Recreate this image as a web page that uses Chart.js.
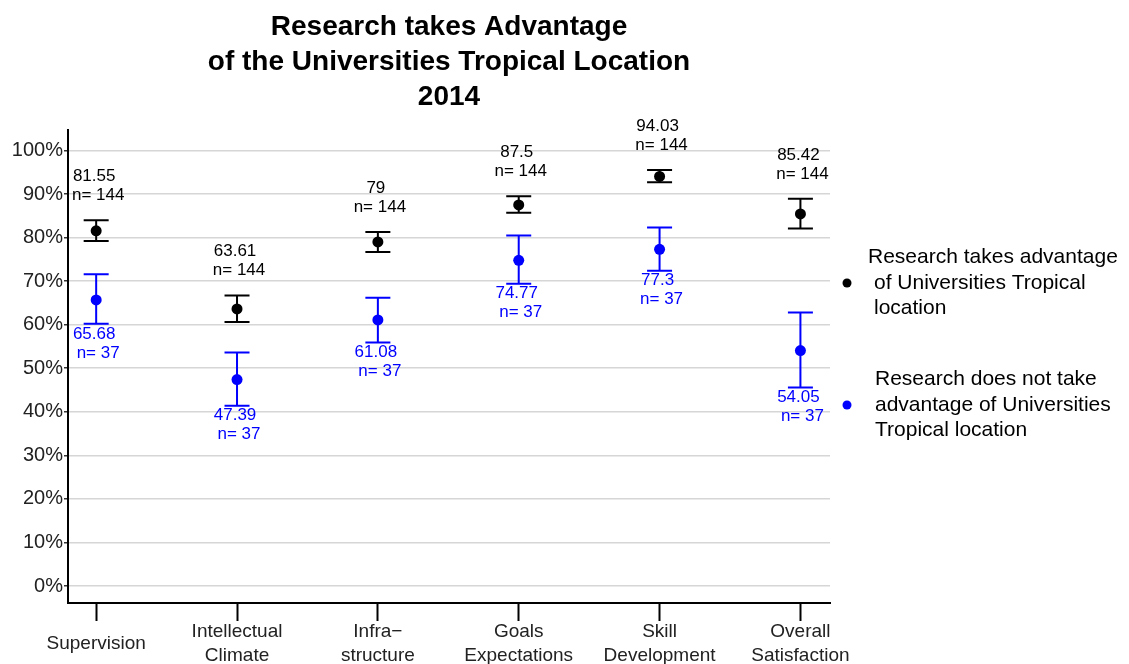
<!DOCTYPE html>
<html lang="en">
<head>
  <meta charset="UTF-8">
  <title>Research takes Advantage of the Universities Tropical Location 2014</title>
  <script src="https://cdn.jsdelivr.net/npm/chart.js"></script>
  <style>
    html, body { margin: 0; padding: 0; background: #fff; }
    #wrap { width: 1129px; height: 664px; position: relative; }
  </style>
</head>
<body>
  <div id="wrap"><canvas id="chart" width="1129" height="664"></canvas></div>

  <script>
    // categories (multi-line tick labels)
    const categories = [
      ['Supervision'],
      ['Intellectual', 'Climate'],
      ['Infra\u2212', 'structure'],
      ['Goals', 'Expectations'],
      ['Skill', 'Development'],
      ['Overall', 'Satisfaction']
    ];

    // Research takes advantage (black)
    const takesMean  = [81.55, 63.61, 79, 87.5, 94.03, 85.42];
    const takesLower = [79.2, 60.6, 76.7, 85.7, 92.7, 82.1];
    const takesUpper = [84.0, 66.7, 81.3, 89.5, 95.5, 88.9];
    const takesN     = [144, 144, 144, 144, 144, 144];

    // Research does not take advantage (blue)
    const notMean  = [65.68, 47.39, 61.08, 74.77, 77.3, 54.05];
    const notLower = [60.2, 41.4, 55.9, 69.4, 72.4, 45.6];
    const notUpper = [71.6, 53.6, 66.2, 80.5, 82.3, 62.8];
    const notN     = [37, 37, 37, 37, 37, 37];

    const yTicks = [0, 10, 20, 30, 40, 50, 60, 70, 80, 90, 100];

    const FONT = "'Liberation Sans', Arial, sans-serif";

    const groups = [
      { mean: takesMean, lower: takesLower, upper: takesUpper, n: takesN, color: '#000000', above: true },
      { mean: notMean, lower: notLower, upper: notUpper, n: notN, color: '#0000ff', above: false }
    ];

    // error bars drawn under the points
    const errorBars = {
      id: 'errorBars',
      beforeDatasetsDraw(chart) {
        const ctx = chart.ctx, xs = chart.scales.x, ys = chart.scales.y;
        ctx.save();
        ctx.lineWidth = 2;
        groups.forEach(g => {
          ctx.strokeStyle = g.color;
          g.mean.forEach((m, i) => {
            const px = xs.getPixelForValue(i);
            const top = ys.getPixelForValue(g.upper[i]);
            const bot = ys.getPixelForValue(g.lower[i]);
            ctx.beginPath();
            ctx.moveTo(px, top); ctx.lineTo(px, bot);
            ctx.moveTo(px - 12.5, top); ctx.lineTo(px + 12.5, top);
            ctx.moveTo(px - 12.5, bot); ctx.lineTo(px + 12.5, bot);
            ctx.stroke();
          });
        });
        ctx.restore();
      }
    };

    // value / n labels, title and legend
    const annotations = {
      id: 'annotations',
      afterDraw(chart) {
        const ctx = chart.ctx, xs = chart.scales.x, ys = chart.scales.y;
        const area = chart.chartArea;
        ctx.save();
        ctx.textBaseline = 'middle';
        ctx.textAlign = 'center';

        ctx.font = '17px ' + FONT;
        groups.forEach(g => {
          ctx.fillStyle = g.color;
          g.mean.forEach((m, i) => {
            const px = xs.getPixelForValue(i);
            let y1, y2;
            if (g.above) {
              const top = ys.getPixelForValue(g.upper[i]);
              y1 = top - 44; y2 = top - 25;
            } else {
              const bot = ys.getPixelForValue(g.lower[i]);
              y1 = bot + 10; y2 = bot + 29;
            }
            ctx.fillText(String(m), px - 2, y1);
            ctx.fillText('n= ' + g.n[i], px + 2, y2);
          });
        });

        // title
        ctx.fillStyle = '#000';
        ctx.font = 'bold 28px ' + FONT;
        const cx = (area.left + area.right) / 2;
        ['Research takes Advantage', 'of the Universities Tropical Location', '2014']
          .forEach((t, k) => ctx.fillText(t, cx, 27 + k * 35));

        // legend
        ctx.textAlign = 'left';
        ctx.font = '21px ' + FONT;
        const legend = [
          { color: '#000', y: 283, lines: [[868, 'Research takes advantage'], [874, 'of Universities Tropical'], [874, 'location']] },
          { color: '#0000ff', y: 405, lines: [[875, 'Research does not take'], [875, 'advantage of Universities'], [875, 'Tropical location']] }
        ];
        legend.forEach(l => {
          ctx.fillStyle = l.color;
          ctx.beginPath();
          ctx.arc(847, l.y, 4.5, 0, Math.PI * 2);
          ctx.fill();
          ctx.fillStyle = '#000';
          l.lines.forEach((ln, k) => ctx.fillText(ln[1], ln[0], l.y - 26 + k * 25.8));
        });
        ctx.restore();
      }
    };

    const ctx = document.getElementById('chart').getContext('2d');
    new Chart(ctx, {
      type: 'scatter',
      data: {
        datasets: groups.map(g => ({
          data: g.mean.map((m, i) => ({ x: i, y: m })),
          backgroundColor: g.color,
          borderWidth: 0,
          pointRadius: 5.5,
          pointHoverRadius: 5.5
        }))
      },
      options: {
        responsive: false,
        animation: false,
        layout: { padding: { top: 130, right: 299, left: 0, bottom: 0 } },
        plugins: {
          legend: { display: false },
          tooltip: { enabled: false },
          title: { display: false }
        },
        scales: {
          x: {
            type: 'linear',
            min: -0.2,
            max: 5.21,
            afterBuildTicks: scale => { scale.ticks = categories.map((c, i) => ({ value: i })); },
            afterFit: scale => { scale.height = 61; scale.paddingLeft = 0; scale.paddingRight = 0; },
            grid: { drawOnChartArea: false, drawTicks: true, tickLength: 18, tickColor: '#000', tickWidth: 2 },
            border: { display: true, color: '#000', width: 2 },
            ticks: {
              autoSkip: false,
              maxRotation: 0,
              padding: 11,
              crossAlign: 'center',
              color: '#222',
              font: { family: FONT, size: 19, lineHeight: 1.25 },
              callback: v => categories[v]
            }
          },
          y: {
            min: -3.9,
            max: 104.7,
            afterBuildTicks: scale => { scale.ticks = yTicks.map(v => ({ value: v })); },
            afterFit: scale => { scale.width = 68; scale.paddingTop = 0; scale.paddingBottom = 0; },
            grid: { color: '#d6d6d6', lineWidth: 1.5, drawTicks: true, tickLength: 4, tickColor: '#333', tickWidth: 1.5 },
            border: { display: true, color: '#000', width: 2 },
            ticks: {
              padding: 1,
              color: '#222',
              font: { family: FONT, size: 20 },
              callback: v => v + '%'
            }
          }
        }
      },
      plugins: [errorBars, annotations]
    });
  </script>
</body>
</html>
